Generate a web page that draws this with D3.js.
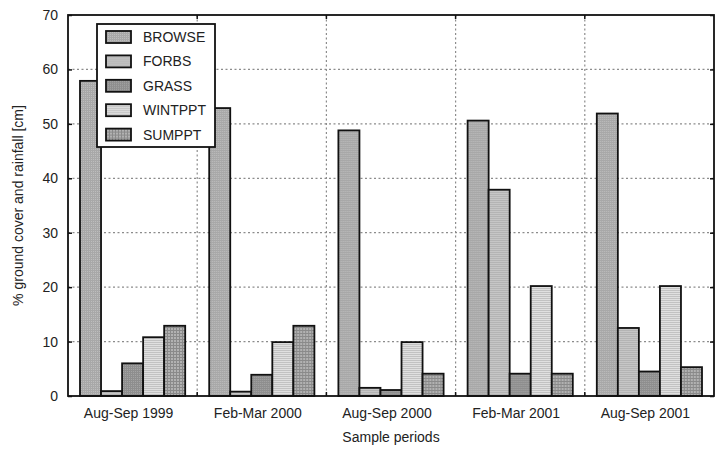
<!DOCTYPE html>
<html>
<head>
<meta charset="utf-8">
<script src="https://cdn.jsdelivr.net/npm/d3@7"></script>
<style>
  body { margin: 0; background: #fff; }
  svg { font-family: "Liberation Sans", Arial, sans-serif; }
</style>
</head>
<body>
<svg id="chart" width="723" height="453"></svg>
<script>
let periods = ["Aug-Sep 1999", "Feb-Mar 2000", "Aug-Sep 2000", "Feb-Mar 2001", "Aug-Sep 2001"];
let seriesNames = ["BROWSE", "FORBS", "GRASS", "WINTPPT", "SUMPPT"];
let browse  = [57.9, 52.9, 48.8, 50.6, 51.9];
let forbs   = [0.9, 0.8, 1.5, 37.9, 12.5];
let grass   = [6.0, 3.9, 1.1, 4.1, 4.5];
let wintppt = [10.8, 9.9, 9.9, 20.2, 20.2];
let sumppt  = [12.9, 12.9, 4.1, 4.1, 5.3];
let yTicks = [0, 10, 20, 30, 40, 50, 60, 70];

let seriesValues = [browse, forbs, grass, wintppt, sumppt];
let data = periods.map((p, i) => ({
    period: p,
    values: seriesNames.map((k, j) => ({key: k, value: seriesValues[j][i]}))
}));

let margin = ({top: 15, right: 9, bottom: 57, left: 68});
let width = 723, height = 453;
let svg = d3.select("#chart");

// fill patterns to mimic the printed hatching
let defs = svg.append("defs");
let pat = [
    {id: "p0", base: "#bdbdbd", line: "#a8a8a8", h: true, v: true, s: 2},
    {id: "p1", base: "#c6c6c6", line: "#b4b4b4", h: true, v: false, s: 2},
    {id: "p2", base: "#a4a4a4", line: "#8e8e8e", h: true, v: true, s: 2},
    {id: "p3", base: "#e0e0e0", line: "#c2c2c2", h: true, v: false, s: 2},
    {id: "p4", base: "#b2b2b2", line: "#8a8a8a", h: true, v: true, s: 3},
];
pat.forEach(p => {
    let g = defs.append("pattern").attr("id", p.id)
        .attr("patternUnits", "userSpaceOnUse")
        .attr("width", p.s).attr("height", p.s);
    g.append("rect").attr("width", p.s).attr("height", p.s).attr("fill", p.base);
    if (p.h) g.append("rect").attr("width", p.s).attr("height", 1).attr("fill", p.line);
    if (p.v) g.append("rect").attr("width", 1).attr("height", p.s).attr("fill", p.line);
});
let fillOf = d3.scaleOrdinal().domain(seriesNames).range(pat.map(p => `url(#${p.id})`));

let x0 = d3.scaleBand()
    .domain(periods)
    .range([margin.left, width - margin.right])
    .padding(0);
let x1 = d3.scaleBand()
    .domain(seriesNames)
    .range([12, x0.bandwidth() - 12])
    .padding(0);
let y = d3.scaleLinear()
    .domain([0, 70])
    .range([height - margin.bottom, margin.top]);

// grid
let grid = svg.append("g").attr("stroke", "#8c8c8c").attr("stroke-width", 1.2)
    .attr("stroke-dasharray", "2,2.5");
grid.selectAll(".hg").data(yTicks.slice(1, -1)).join("line")
    .attr("x1", margin.left).attr("x2", width - margin.right)
    .attr("y1", d => y(d)).attr("y2", d => y(d));
grid.selectAll(".vg").data(periods.slice(1)).join("line")
    .attr("x1", d => x0(d)).attr("x2", d => x0(d))
    .attr("y1", margin.top).attr("y2", height - margin.bottom);

// bars
let groups = svg.append("g").selectAll("g").data(data).join("g")
    .attr("transform", d => `translate(${x0(d.period)},0)`);
groups.selectAll("rect").data(d => d.values).join("rect")
    .attr("x", d => x1(d.key))
    .attr("y", d => y(d.value))
    .attr("width", x1.bandwidth())
    .attr("height", d => y(0) - y(d.value))
    .attr("fill", d => fillOf(d.key))
    .attr("stroke", "#111")
    .attr("stroke-width", 1.8);

// frame
svg.append("rect")
    .attr("x", margin.left).attr("y", margin.top)
    .attr("width", width - margin.left - margin.right)
    .attr("height", height - margin.top - margin.bottom)
    .attr("fill", "none").attr("stroke", "#111").attr("stroke-width", 1.8);

// axes (ticks pointing inward)
let yAxis = g => g
    .attr("transform", `translate(${margin.left},0)`)
    .call(d3.axisLeft(y).tickValues(yTicks).tickSize(-4).tickPadding(10))
    .call(g => g.select(".domain").remove())
    .call(g => g.selectAll("line").attr("stroke", "#111").attr("stroke-width", 1.5));
let yAxisR = g => g
    .attr("transform", `translate(${width - margin.right},0)`)
    .call(d3.axisRight(y).tickValues(yTicks).tickSize(-4).tickFormat(""))
    .call(g => g.select(".domain").remove())
    .call(g => g.selectAll("line").attr("stroke", "#111").attr("stroke-width", 1.5));
svg.append("g").call(yAxis);
svg.append("g").call(yAxisR);
svg.selectAll(".tick text").attr("font-size", 14).attr("fill", "#222");

let xTickPos = periods.slice(1).map(p => x0(p));
svg.append("g").selectAll("line").data(xTickPos).join("line")
    .attr("x1", d => d).attr("x2", d => d)
    .attr("y1", margin.top).attr("y2", margin.top + 4)
    .attr("stroke", "#111").attr("stroke-width", 1.5);
svg.append("g").selectAll("line").data(xTickPos).join("line")
    .attr("x1", d => d).attr("x2", d => d)
    .attr("y1", height - margin.bottom).attr("y2", height - margin.bottom - 4)
    .attr("stroke", "#111").attr("stroke-width", 1.5);

svg.append("g").selectAll("text").data(periods).join("text")
    .attr("x", d => x0(d) + x0.bandwidth() / 2 - 4)
    .attr("y", height - margin.bottom + 22)
    .attr("text-anchor", "middle")
    .attr("font-size", 14).attr("fill", "#222")
    .text(d => d);

// axis titles
svg.append("text")
    .attr("x", 391).attr("y", 442)
    .attr("text-anchor", "middle")
    .attr("font-size", 14).attr("fill", "#222")
    .text("Sample periods");
svg.append("text")
    .attr("transform", `translate(23,${(margin.top + height - margin.bottom) / 2}) rotate(-90)`)
    .attr("text-anchor", "middle")
    .attr("font-size", 14).attr("fill", "#222")
    .text("% ground cover and rainfall [cm]");

// legend
let legend = svg.append("g").attr("transform", "translate(97,24)");
legend.append("rect")
    .attr("width", 118).attr("height", 123)
    .attr("fill", "#fff").attr("stroke", "#111").attr("stroke-width", 1.8);
let items = legend.selectAll("g").data(seriesNames).join("g")
    .attr("transform", (d, i) => `translate(0,${13 + i * 24.4})`);
items.append("rect")
    .attr("x", 9).attr("y", -6).attr("width", 25).attr("height", 12)
    .attr("fill", d => fillOf(d)).attr("stroke", "#111").attr("stroke-width", 1.8);
items.append("text")
    .attr("x", 46).attr("y", 5)
    .attr("font-size", 14).attr("fill", "#222")
    .text(d => d);
</script>
</body>
</html>
